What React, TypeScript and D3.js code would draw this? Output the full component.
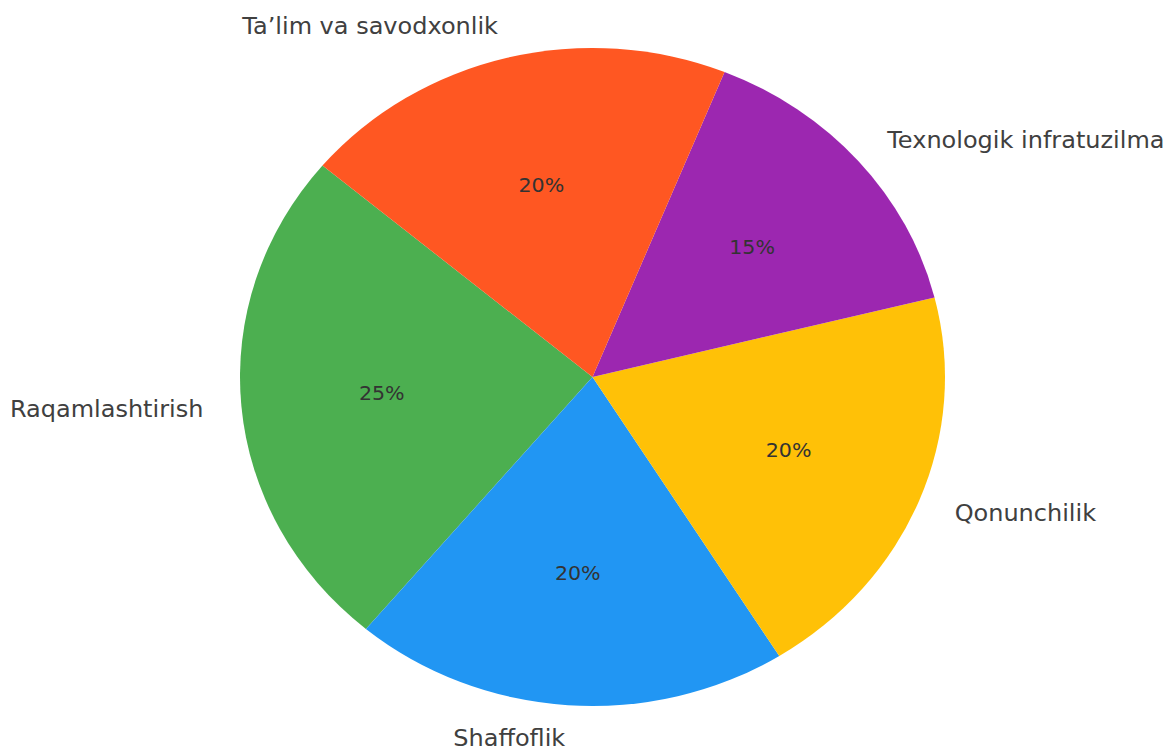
import React from "react";
import * as d3 from "d3";

const labels = ["Raqamlashtirish", "Shaffoflik", "Qonunchilik", "Texnologik infratuzilma", "Ta\u2019lim va savodxonlik"];
const values = [25, 20, 20, 15, 20];
const colors = ["#4CAF50", "#2196F3", "#FFC107", "#9C27B0", "#FF5722"];
const startAngleDeg = 140;

const W = 1168;
const H = 748;

export default function App() {
  const cx = 592.5;
  const cy = 377;
  const R = 329;
  const sx = 352.5 / 329;

  const a0 = ((90 - startAngleDeg) * Math.PI) / 180;
  const pie = d3
    .pie<number>()
    .sort(null)
    .value((d) => d)
    .startAngle(a0)
    .endAngle(a0 - 2 * Math.PI);
  const arcs = pie(values);
  const arc = d3.arc<d3.PieArcDatum<number>>().innerRadius(0).outerRadius(R);
  const fmt = (v: number) => `${Math.round((v / d3.sum(values)) * 100)}%`;

  return (
    <svg
      width={W}
      height={H}
      style={{ position: "absolute", left: 0, top: 0, background: "#fff" }}
      fontFamily="DejaVu Sans, sans-serif"
    >
      <g transform={`translate(${cx},${cy}) scale(${sx},1)`}>
        {arcs.map((a, i) => (
          <path key={i} d={arc(a) || ""} fill={colors[i]} />
        ))}
        {arcs.map((a, i) => {
          const m = (a.startAngle + a.endAngle) / 2;
          const lx = Math.sin(m) * R * 1.108;
          const ly = -Math.cos(m) * R * 1.1;
          const px = Math.sin(m) * R * 0.6;
          const py = -Math.cos(m) * R * 0.6;
          return (
            <g key={"t" + i}>
              <text
                x={lx}
                y={ly}
                textAnchor={lx > 0 ? "start" : "end"}
                dominantBaseline="central"
                fontSize={22.4}
                fill="#404040"
              >
                {labels[i]}
              </text>
              <text
                x={px}
                y={py}
                textAnchor="middle"
                dominantBaseline="central"
                fontSize={19.2}
                fill="#333"
              >
                {fmt(values[i])}
              </text>
            </g>
          );
        })}
      </g>
    </svg>
  );
}
